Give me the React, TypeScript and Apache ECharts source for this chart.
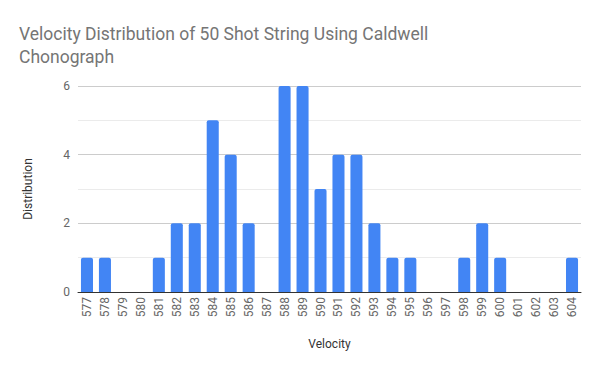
import React, { useEffect, useRef } from "react";
import * as echarts from "echarts";

const categories = ["577","578","579","580","581","582","583","584","585","586","587","588","589","590","591","592","593","594","595","596","597","598","599","600","601","602","603","604"];
const distribution = [1,1,0,0,1,2,2,5,4,2,0,6,6,3,4,4,2,1,1,0,0,1,2,1,0,0,0,1];

export default function App() {
  const ref = useRef<HTMLDivElement>(null);
  useEffect(() => {
    if (!ref.current) return;
    const chart = echarts.init(ref.current, null, { renderer: "svg" });
    chart.setOption({
      animation: false,
      backgroundColor: "#ffffff",
      title: {
        text: "Velocity Distribution of 50 Shot String Using Caldwell\nChonograph",
        left: 19,
        top: 22,
        padding: 0,
        textStyle: { fontFamily: "Roboto", fontSize: 17.5, fontWeight: "normal", color: "#757575", lineHeight: 23 },
      },
      grid: { left: 78, right: 19, top: 86, bottom: 79, containLabel: false },
      xAxis: {
        type: "category",
        data: categories,
        name: "Velocity",
        nameLocation: "middle",
        nameGap: 46,
        nameTextStyle: { fontFamily: "Roboto", fontSize: 12, color: "#333333" },
        axisLine: { lineStyle: { color: "#333333", width: 1 } },
        axisTick: { show: false },
        axisLabel: { rotate: 90, interval: 0, fontFamily: "Roboto", fontSize: 12, color: "#666666", margin: 5 },
      },
      yAxis: {
        type: "value",
        min: 0,
        max: 6,
        interval: 2,
        name: "Distribution",
        nameLocation: "middle",
        nameGap: 44,
        nameTextStyle: { fontFamily: "Roboto", fontSize: 12, color: "#333333" },
        axisLine: { show: false },
        axisTick: { show: false },
        axisLabel: { fontFamily: "Roboto", fontSize: 12, color: "#666666", margin: 8 },
        splitLine: { lineStyle: { color: "#cccccc" } },
        minorTick: { show: false, splitNumber: 2 },
        minorSplitLine: { show: true, lineStyle: { color: "#ebebeb" } },
      },
      series: [
        {
          type: "bar",
          data: distribution,
          barCategoryGap: "33%",
          itemStyle: { color: "#4285f4", borderRadius: [2, 2, 0, 0] },
        },
      ],
    });
    return () => chart.dispose();
  }, []);
  return <div ref={ref} style={{ width: 600, height: 371, position: "absolute", left: 0, top: 0 }} />;
}
